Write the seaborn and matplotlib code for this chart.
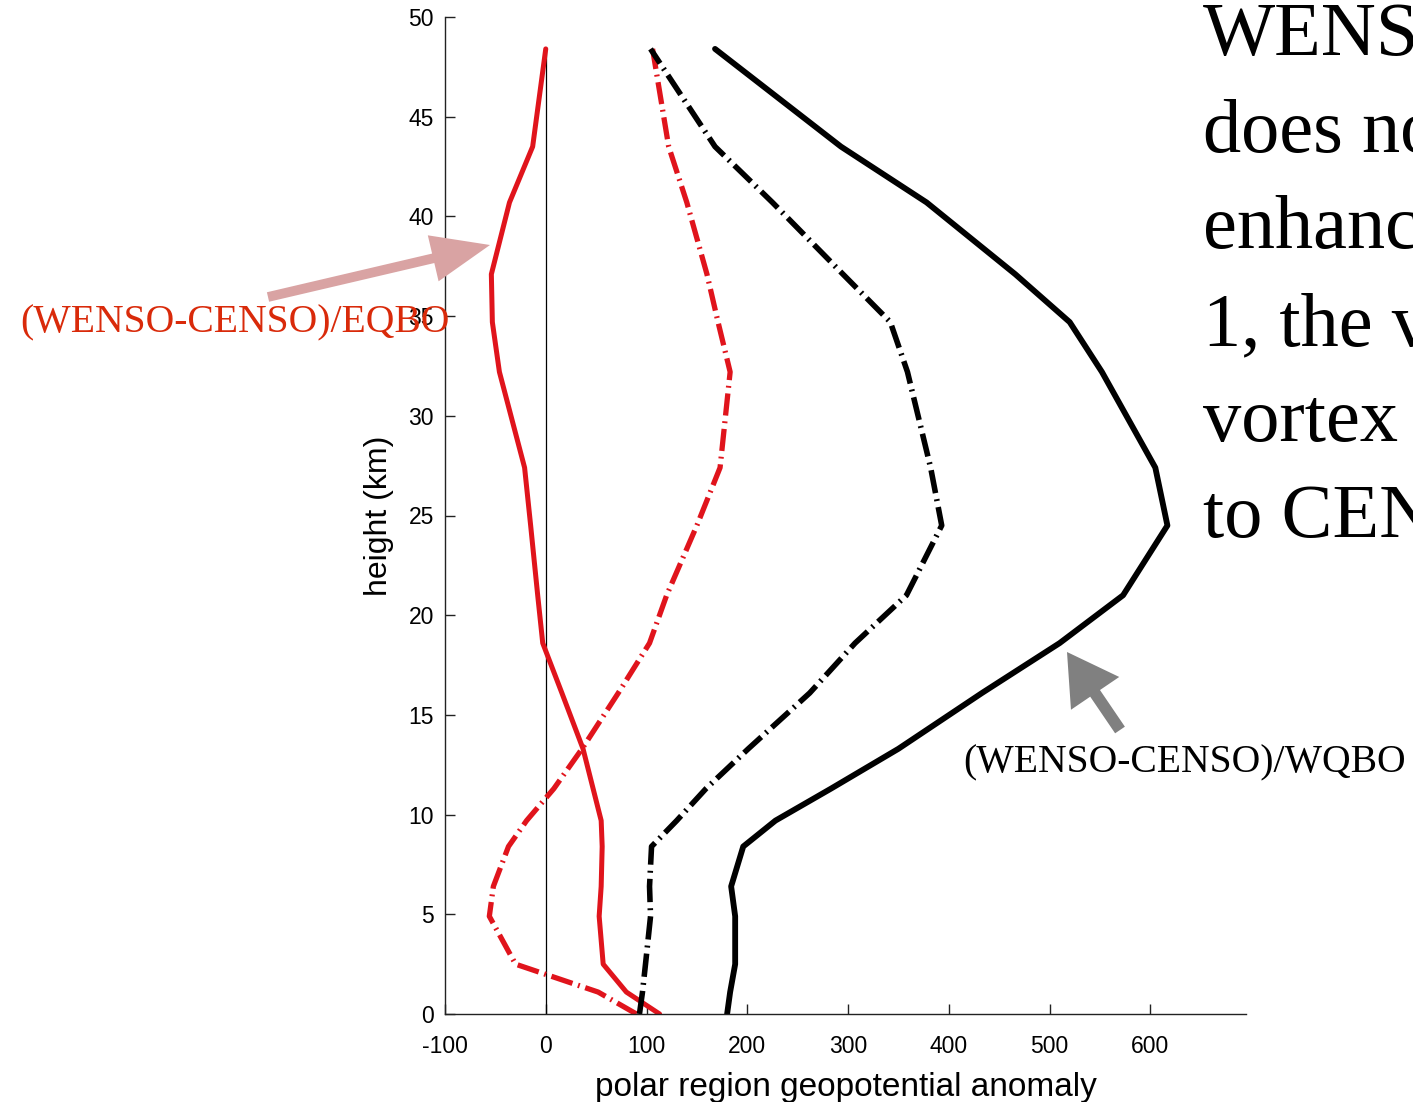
import numpy as np
import pandas as pd
import matplotlib
matplotlib.use("Agg")
import matplotlib.pyplot as plt
import seaborn as sns

# height levels (km) and polar geopotential anomaly profiles
height_km = [0.0, 1.1, 2.5, 4.9, 6.4, 8.4, 9.7, 11.3, 13.3, 16.1,
             18.6, 21.0, 24.5, 27.4, 32.2, 34.7, 37.1, 40.7, 43.5, 48.4]
wqbo_solid = [180, 183, 188, 188, 184, 196, 228, 283, 350, 433,
              510, 573, 617, 605, 552, 520, 466, 378, 293, 168]
wqbo_dashdot = [93, 96, 99, 104, 103, 105, 130, 159, 201, 262,
                307, 358, 393, 382, 359, 342, 295, 225, 168, 104]
eqbo_solid = [113, 80, 57, 53, 55, 56, 55, 47, 37, 16,
              -3, -8, -15, -21, -46, -53, -54, -36, -13, 0]
eqbo_dashdot = [90, 52, -30, -56, -52, -37, -19, 8, 36, 72,
                103, 120, 150, 173, 183, 171, 160, 140, 122, 106]

x_ticks = [-100, 0, 100, 200, 300, 400, 500, 600]
y_ticks = [0, 5, 10, 15, 20, 25, 30, 35, 40, 45, 50]

slide_lines = ["WENS", "does no", "enhanc", "1, the v", "vortex", "to CEN"]

df = pd.DataFrame({"height": height_km, "wqbo_solid": wqbo_solid,
                   "wqbo_dashdot": wqbo_dashdot, "eqbo_solid": eqbo_solid,
                   "eqbo_dashdot": eqbo_dashdot})

sns.set_style("ticks")
plt.rcParams["font.family"] = ["Liberation Sans", "DejaVu Sans"]
plt.rcParams["axes.unicode_minus"] = False

W, H = 1413, 1102
fig = plt.figure(figsize=(W / 100, H / 100), dpi=100)
ax = fig.add_axes([445 / W, 88 / H, 801 / W, 997 / H])

red = "#e0141c"
dashdot = (0, (4.2, 1.1, 0.35, 1.1))

sns.lineplot(data=df, x="eqbo_solid", y="height", orient="y", ax=ax,
             color=red, lw=3.6, errorbar=None)
sns.lineplot(data=df, x="eqbo_dashdot", y="height", orient="y", ax=ax,
             color=red, lw=3.8, linestyle=dashdot, errorbar=None)
sns.lineplot(data=df, x="wqbo_dashdot", y="height", orient="y", ax=ax,
             color="black", lw=4.0, linestyle=dashdot, errorbar=None)
sns.lineplot(data=df, x="wqbo_solid", y="height", orient="y", ax=ax,
             color="black", lw=4.2, errorbar=None)

# zero reference line
ax.vlines(0, 0, max(height_km), color="black", lw=0.9, zorder=1)

ax.set_xlim(-100, 695)
ax.set_ylim(0, 50)
ax.set_xticks(x_ticks)
ax.set_yticks(y_ticks)
sns.despine(ax=ax)
for s in ["left", "bottom"]:
    ax.spines[s].set_color("#222222")
    ax.spines[s].set_linewidth(1.0)
ax.tick_params(direction="in", length=7, width=1, color="#222222",
               labelsize=16.5, labelcolor="black")
ax.tick_params(axis="x", pad=15)
ax.tick_params(axis="y", pad=8)
ax.set_xlabel("polar region geopotential anomaly", fontsize=24,
              labelpad=10, color="black")
ax.set_ylabel("height (km)", fontsize=23, labelpad=10, color="black")

# annotation arrows (figure pixel coordinates)
ax.annotate("", xy=(490, H - 245), xycoords="figure pixels",
            xytext=(268, H - 297), textcoords="figure pixels",
            arrowprops=dict(facecolor="#d9a3a3", edgecolor="none",
                            width=7, headwidth=34, headlength=42, shrink=0))
ax.annotate("", xy=(1067, H - 652), xycoords="figure pixels",
            xytext=(1120, H - 730), textcoords="figure pixels",
            arrowprops=dict(facecolor="#808080", edgecolor="none",
                            width=8.5, headwidth=42, headlength=36, shrink=0))

serif = ["Liberation Serif", "DejaVu Serif"]
fig.text(20 / W, 1 - 332 / H, "(WENSO-CENSO)/EQBO", family=serif,
         fontsize=28.5, color="#d92a0a", va="baseline", zorder=10)
fig.text(963 / W, 1 - 772 / H, "(WENSO-CENSO)/WQBO", family=serif,
         fontsize=28.5, color="black", va="baseline", zorder=10)

baselines = [55, 152, 248, 345, 441, 537]
for txt, b in zip(slide_lines, baselines):
    fig.text(1203 / W, 1 - b / H, txt, family=serif, fontsize=55,
             color="black", va="baseline")

fig.savefig("out.png", dpi=100)
